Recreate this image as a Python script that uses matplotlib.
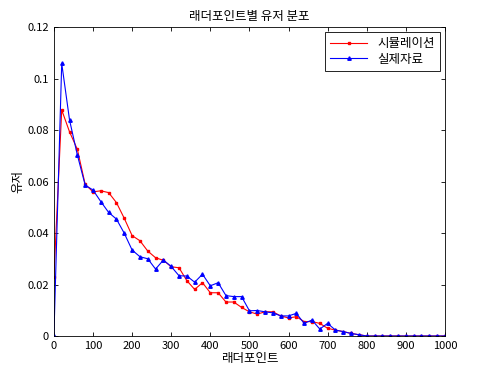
import numpy as np
import matplotlib
matplotlib.use("Agg")
import matplotlib.pyplot as plt

plt.rcParams['font.family'] = ['Noto Sans CJK KR', 'DejaVu Sans']

# ladder points, step 20
points = list(range(0, 1001, 20))

sim_users = [0.023, 0.0878, 0.0793, 0.0725, 0.0589, 0.056, 0.0564, 0.0557, 0.0518, 0.0457,
             0.039, 0.037, 0.033, 0.0304, 0.0294, 0.0269, 0.0265, 0.0215, 0.0181, 0.0207,
             0.0168, 0.0168, 0.0132, 0.0132, 0.0111, 0.0094, 0.0085, 0.0094, 0.0094, 0.0078,
             0.007, 0.0075, 0.0056, 0.0056, 0.0049, 0.003, 0.0023, 0.0017, 0.001, 0.0005,
             0, 0, 0, 0, 0, 0, 0, 0, 0, 0, 0]

real_users = [0.0, 0.1059, 0.0839, 0.0703, 0.0586, 0.0567, 0.0522, 0.048, 0.0454, 0.0399,
              0.0334, 0.0308, 0.030, 0.026, 0.0295, 0.027, 0.0234, 0.0233, 0.0209, 0.024,
              0.0195, 0.0207, 0.0157, 0.0153, 0.0153, 0.0098, 0.0099, 0.0094, 0.009, 0.0078,
              0.0078, 0.0088, 0.0049, 0.0062, 0.0027, 0.0049, 0.0023, 0.0017, 0.001, 0.0005,
              0, 0, 0, 0, 0, 0, 0, 0, 0, 0, 0]

fig = plt.figure(figsize=(4.9, 3.74), dpi=100)
ax = fig.add_axes([0.110, 0.1016, 0.798, 0.826])

ax.plot(points, sim_users, color='#ff0000', marker='s', markersize=2, linewidth=0.8,
        label='시뮬레이션')
ax.plot(points, real_users, color='#0000ff', marker='^', markersize=2.5, linewidth=0.8,
        label='실제자료')

ax.set_xlim(0, 1000)
ax.set_ylim(0, 0.12)
ax.set_xticks(range(0, 1001, 100))
ax.set_yticks([0, 0.02, 0.04, 0.06, 0.08, 0.1, 0.12])
ax.set_yticklabels(['0', '0.02', '0.04', '0.06', '0.08', '0.1', '0.12'])
ax.tick_params(direction='in', top=True, right=True, labelsize=8, length=3, width=0.6)
for s in ax.spines.values():
    s.set_linewidth(0.6)

ax.set_title('래더포인트별 유저 분포', fontsize=9, pad=5)
ax.set_xlabel('래더포인트', fontsize=9, labelpad=1)
ax.set_ylabel('유저', fontsize=9, labelpad=2)

leg = ax.legend(loc='upper right', fontsize=9, fancybox=False, edgecolor='black',
                framealpha=1, handlelength=3, borderaxespad=0.4, labelspacing=0.2)
leg.get_frame().set_linewidth(0.6)

fig.savefig('out.png', dpi=100)
